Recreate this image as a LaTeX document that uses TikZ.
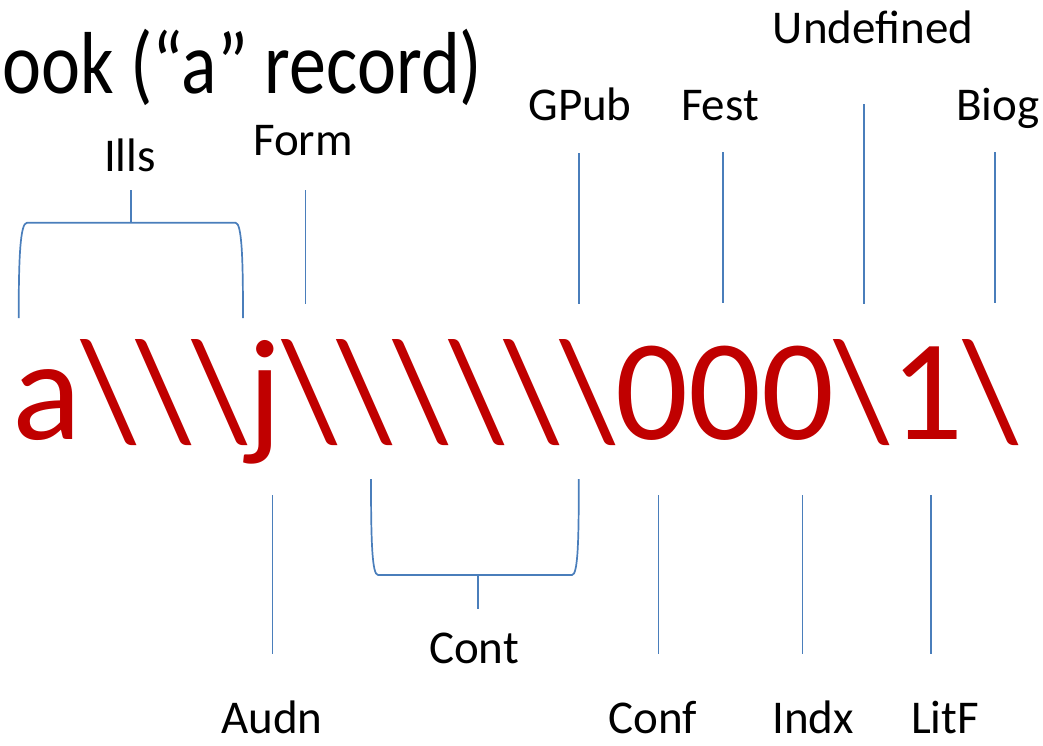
\documentclass[tikz,border=0pt]{standalone}
\usepackage{fontspec}
\setmainfont{Carlito}
\definecolor{codered}{HTML}{C00000}
\definecolor{leadblue}{HTML}{4A7EBB}
\newcommand\bsl{\textbackslash}
\tikzset{
  lbl/.style={anchor=base, inner sep=0pt, font=\fontsize{47}{54}\selectfont},
  lead/.style={leadblue, line width=1.7pt},
}

\begin{document}
\begin{tikzpicture}[x=1pt,y=-1pt]
\useasboundingbox (0,0) rectangle (1043,745);
% title and the 008 string
\node[anchor=base west, inner sep=0pt, font=\fontsize{88}{96}\selectfont] (title) at (2,93)
    {\scalebox{0.84}[1]{ook (“a” record)}};
\node[anchor=base west, inner sep=0pt, text=codered, font=\fontsize{144}{150}\selectfont] (code) at (12,439)
    {a\bsl\bsl\bsl j\bsl\bsl\bsl\bsl\bsl\bsl 000\bsl 1\bsl};
% labels above
\node[lbl] (ills) at (130,171) {Ills};
\node[lbl] (form) at (303,155) {Form};
\node[lbl] (gpub) at (580,120) {GPub};
\node[lbl] (fest) at (720,120) {Fest};
\node[lbl] (undef) at (873,43) {Undefined};
\node[lbl] (biog) at (998,120) {Biog};
% labels below
\node[lbl] (cont) at (474,663) {Cont};
\node[lbl] (audn) at (272,733) {Audn};
\node[lbl] (conf) at (653,733) {Conf};
\node[lbl] (indx) at (813,733) {Indx};
\node[lbl] (litf) at (945,733) {LitF};
% single leaders
\foreach \n/\x/\ya/\yb in {form/305.5/190/304, gpub/578.8/153/304, fest/722.7/152/303,
                            undef/863.8/104/304, biog/994.8/152/303}
  \draw[lead] (\x,\ya) coordinate (\n T) -- (\x,\yb) coordinate (\n B);
\foreach \n/\x in {audn/272.5, conf/658.5, indx/802.6, litf/930.8}
  \draw[lead] (\x,495) coordinate (\n T) -- (\x,654) coordinate (\n B);
% brackets
\coordinate (illsL) at (18.7,318);
\coordinate (illsR) at (243,318);
\coordinate (illsM) at (131,222.7);
\draw[lead] (illsL) .. controls (18.7,260) and (20,222.7) .. (27,222.7)
  -- (235.5,222.7) .. controls (242,222.7) and (243,260) .. (illsR);
\draw[lead] (illsM) -- (131,190);
\coordinate (contL) at (371,479);
\coordinate (contR) at (578.8,479);
\coordinate (contM) at (477.7,575);
\draw[lead] (contL) .. controls (371,540) and (372,575) .. (378,575)
  -- (572,575) .. controls (578,575) and (578.8,540) .. (contR);
\draw[lead] (contM) -- (477.7,609);
\end{tikzpicture}
\end{document}
